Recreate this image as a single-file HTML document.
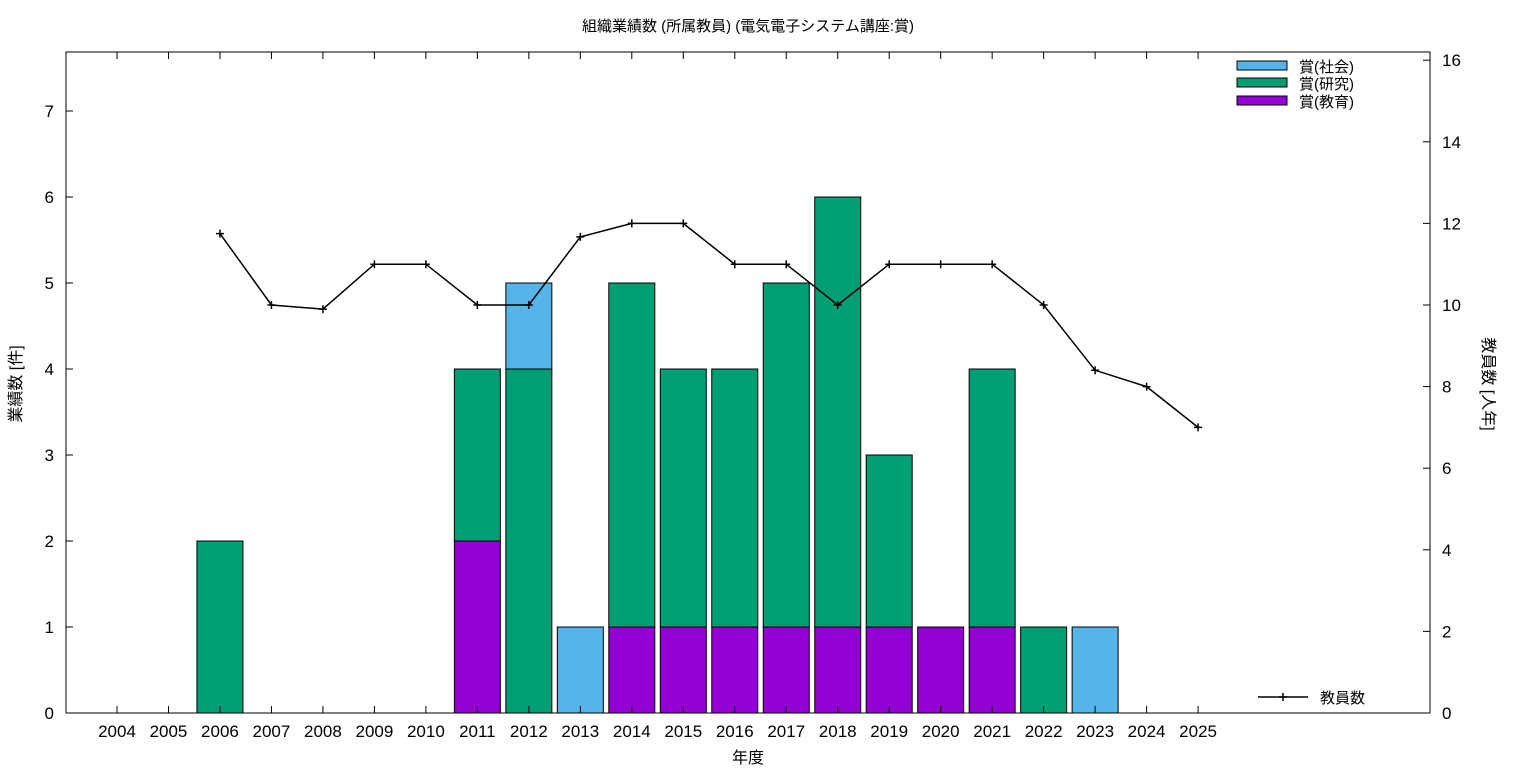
<!DOCTYPE html>
<html><head><meta charset="utf-8"><style>
body{margin:0;background:#fff;}
svg{display:block;font-family:"Liberation Sans","Noto Sans CJK JP",sans-serif;}
</style></head><body>
<svg id="chart" width="1536" height="768" xmlns="http://www.w3.org/2000/svg"></svg>
<script>
const years=[2004,2005,2006,2007,2008,2009,2010,2011,2012,2013,2014,2015,2016,2017,2018,2019,2020,2021,2022,2023,2024,2025];
const education=[0,0,0,0,0,0,0,2,0,0,1,1,1,1,1,1,1,1,0,0,0,0];
const research=[0,0,2,0,0,0,0,2,4,0,4,3,3,4,5,2,0,3,1,0,0,0];
const social=[0,0,0,0,0,0,0,0,1,1,0,0,0,0,0,0,0,0,0,1,0,0];
const staffYears=[2006,2007,2008,2009,2010,2011,2012,2013,2014,2015,2016,2017,2018,2019,2020,2021,2022,2023,2024,2025];
const staff=[11.75,10,9.9,11,11,10,10,11.67,12,12,11,11,10,11,11,11,10,8.4,8,7];
const yTicks=[0,1,2,3,4,5,6,7];
const y2Ticks=[0,2,4,6,8,10,12,14,16];

const L=66,R=1430,T=52,B=713;
const x=yr=>117+(yr-2004)*51.48;
const y=v=>B-v*86;
const y2=v=>B-v*40.8;
const NS="http://www.w3.org/2000/svg";
const svg=document.getElementById('chart');
function mk(tag,attrs,parent){const e=document.createElementNS(NS,tag);for(const k in attrs)e.setAttribute(k,attrs[k]);(parent||svg).appendChild(e);return e;}
function txt(s,attrs){const e=mk('text',attrs);e.textContent=s;return e;}

const colors={social:'#56b4e9',research:'#009e73',education:'#9400d3'};
const bw=46;
years.forEach((yr,i)=>{
  let base=0;
  [['education',education],['research',research],['social',social]].forEach(([k,arr])=>{
    const v=arr[i]; if(!v) return;
    const r=mk('rect',{x:x(yr)-bw/2,y:y(base+v),width:bw,height:y(base)-y(base+v),fill:colors[k],stroke:'#000','stroke-width':1});
    
    
    base+=v;
  });
});

// frame
const fr=mk('rect',{x:L,y:T,width:R-L,height:B-T,fill:'none',stroke:'#000','stroke-width':1});



yTicks.forEach(v=>{
  mk('line',{x1:L,x2:L+7,y1:y(v),y2:y(v),stroke:'#000'});
  const t=txt(String(v),{x:L-12,y:y(v)+6,'text-anchor':'end','font-size':17});
  
  
});
y2Ticks.forEach(v=>{
  mk('line',{x1:R-7,x2:R,y1:y2(v),y2:y2(v),stroke:'#000'});
  const t=txt(String(v),{x:R+12,y:y2(v)+6,'text-anchor':'start','font-size':17});
  
  
});
years.forEach(yr=>{
  mk('line',{x1:x(yr),x2:x(yr),y1:B,y2:B-7,stroke:'#000'});
  mk('line',{x1:x(yr),x2:x(yr),y1:T,y2:T+7,stroke:'#000'});
  const t=txt(String(yr),{x:x(yr),y:737,'text-anchor':'middle','font-size':17});
  
  
});

// staff line
const pts=staffYears.map((yr,i)=>x(yr)+','+y2(staff[i])).join(' ');
const pl=mk('polyline',{points:pts,fill:'none',stroke:'#000','stroke-width':1.5});


staffYears.forEach((yr,i)=>{
  const g=mk('path',{d:`M${x(yr)-4},${y2(staff[i])}h8M${x(yr)},${y2(staff[i])-4}v8`,stroke:'#000','stroke-width':1.5});
  
  
});

// legend
[['賞(社会)','social',66],['賞(研究)','research',83],['賞(教育)','education',101]].forEach(([lab,k,ly])=>{
  const r=mk('rect',{x:1237,y:ly-5,width:50,height:9,fill:colors[k],stroke:'#000'});
  
  
  const t=txt(lab,{x:1299,y:ly+6,'font-size':15});
  
  
});
mk('line',{x1:1258,x2:1308,y1:697,y2:697,stroke:'#000','stroke-width':1.5});
mk('path',{d:'M1279,697h8M1283,693v8',stroke:'#000','stroke-width':1.5});
const sl=txt('教員数',{x:1320,y:703,'font-size':15});


</script>
<div style="position:absolute;left:0;top:0;width:1536px;height:768px;pointer-events:none;font-family:'Liberation Sans','Noto Sans CJK JP',sans-serif;">
<div style="position:absolute;top:15px;left:0;width:1496px;text-align:center;font-size:15px;">組織業績数 (所属教員) (電気電子システム講座:賞)</div>
<div style="position:absolute;top:744px;left:648px;width:200px;text-align:center;font-size:16px;">年度</div>
<div style="position:absolute;left:-36px;top:372px;width:100px;text-align:center;font-size:16px;transform:rotate(-90deg);">業績数 [件]</div>
<div style="position:absolute;left:1440px;top:372px;width:100px;text-align:center;font-size:16px;transform:rotate(90deg);">教員数 [人年]</div>
</div>
</body></html>
